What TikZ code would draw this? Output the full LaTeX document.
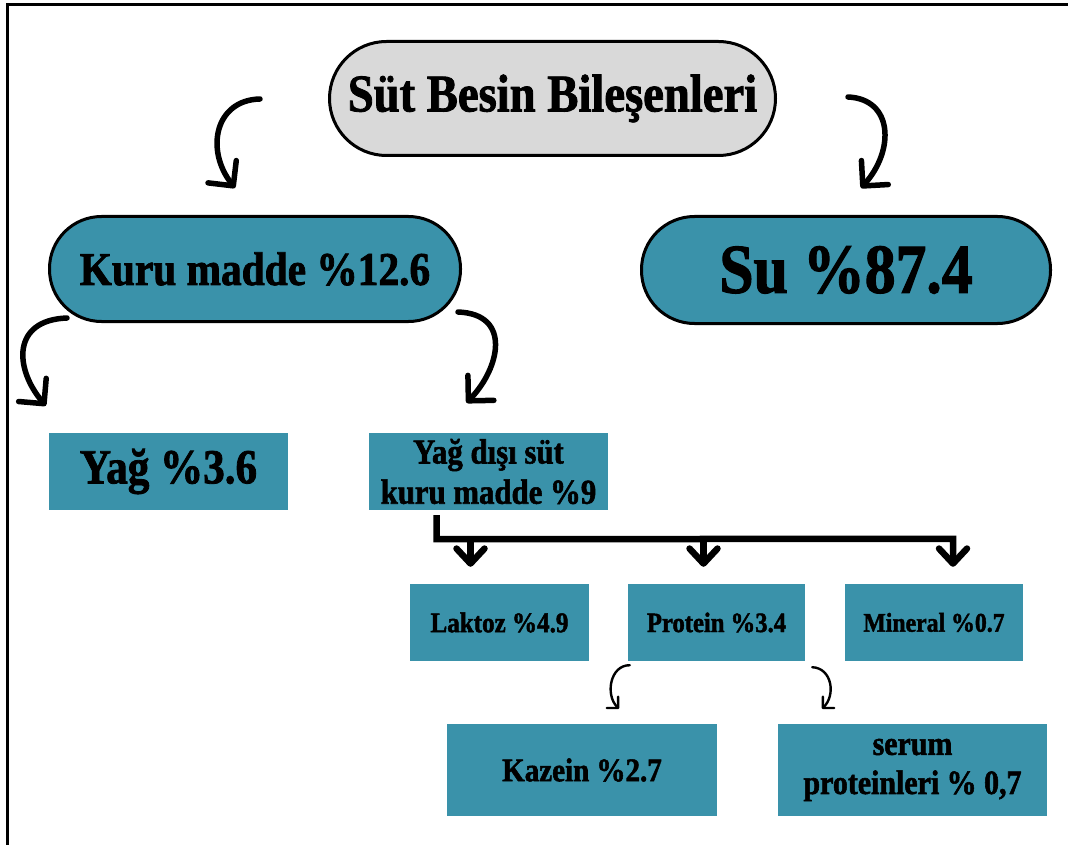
\documentclass[tikz,border=0pt]{standalone}
\usepackage{fontspec}
\setmainfont{Liberation Serif}[FakeStretch=0.88, BoldFeatures={FakeBold=1.6}]
\usepackage{xcolor}
\usepackage{tikz}
\usetikzlibrary{arrows.meta, calc}

\definecolor{milkteal}{HTML}{3A92AA}
\definecolor{pillgray}{HTML}{D9D9D9}
\newcommand{\sizept}[1]{\bfseries\fontsize{#1}{1.15\dimexpr#1pt\relax}\selectfont}

\begin{document}
\begin{tikzpicture}[x=1pt, y=-1pt,
  pill/.style={draw, line width=3pt, fill=milkteal, inner sep=0pt, align=center},
  tbox/.style={fill=milkteal, inner sep=0pt, align=center},
  curvy/.style={line width=5.5pt, line cap=round, -{Straight Barb[length=18pt, width=36pt, line width=5.5pt, round]}},
  thin curvy/.style={line width=2.4pt, line cap=round, -{Straight Barb[length=8pt, width=16pt, line width=2.4pt, round]}},
  barrow/.style={line width=6.5pt, -{Straight Barb[length=15pt, width=28pt, line width=6.5pt, round]}}]
  \useasboundingbox (0,0) rectangle (1068,845);
  \draw[line width=3pt] (7,845) -- (7,5) -- (1068,5);

  % top level
  \node[pill, fill=pillgray, minimum width=446pt, minimum height=114pt, rounded corners=57pt,
        font=\sizept{53}] (title) at (552.5,98.5) {Süt Besin Bileşenleri};
  \node[pill, minimum width=411pt, minimum height=105pt, rounded corners=52pt,
        font=\sizept{47}] (kuru) at (255,269) {Kuru madde \%12.6};
  \node[pill, minimum width=409pt, minimum height=107pt, rounded corners=53pt,
        font=\sizept{70}] (su) at (846,270) {Su \%87.4};

  % second level
  \node[tbox, minimum width=239pt, minimum height=77pt, font=\sizept{49}] (yag) at (168.5,471.5) {Yağ \%3.6};
  \node[tbox, minimum width=239pt, minimum height=77pt, font=\sizept{35}] (ydsk) at (488.5,471.5)
       {Yağ dışı süt\\kuru madde \%9};

  % third level
  \node[tbox, minimum width=179pt, minimum height=77pt, font=\sizept{28.5}] (laktoz) at (499.5,622.5) {Laktoz \%4.9};
  \node[tbox, minimum width=177pt, minimum height=77pt, font=\sizept{28}] (protein) at (716.5,622.5) {Protein \%3.4};
  \node[tbox, minimum width=178pt, minimum height=77pt, font=\sizept{27}] (mineral) at (934,622.5) {Mineral \%0.7};

  % protein parts
  \node[tbox, minimum width=270pt, minimum height=92pt, font=\sizept{33}] (kazein) at (582,770) {Kazein \%2.7};
  \node[tbox, minimum width=269pt, minimum height=92pt, font=\sizept{34}] (serum) at (912.5,770)
       {serum\\proteinleri \% 0,7};

  % curved arrows
  \draw[curvy] ($(title.west)+(-68,0.5)$) .. controls (215,100) and (205,150) .. ($(kuru.north)+(-20,-27)$);
  \draw[curvy] ($(title.east)+(71,-1.5)$) .. controls (893,99) and (895,150) .. ($(su.north)+(15,-27)$);
  \draw[curvy] ($(kuru.south)+(-188,-5)$) .. controls (12,320) and (14,368) .. ($(yag.north west)+(-3,-27)$);
  \draw[curvy] ($(kuru.south)+(203,-11)$) .. controls (512,314) and (500,368) .. ($(ydsk.north)+(-22,-30)$);
  \draw[thin curvy] ($(protein.south west)+(2,4)$) .. controls (610,665) and (605,695) .. ($(kazein.north)+(37,-15)$);
  \draw[thin curvy] ($(protein.south east)+(7,6)$) .. controls (832,668) and (836,695) .. ($(serum.north)+(-90.5,-15)$);

  % fork under Yağ dışı süt kuru madde
  \coordinate (fork) at ($(ydsk.south)+(-52,29)$);
  \draw[barrow] ($(ydsk.south)+(-52,5)$) -- (fork) -- ($(mineral.north)+(19,-45)$) -- ($(mineral.north)+(19,-17)$);
  \draw[barrow] ($(laktoz.north)+(-29,-45)$) -- ($(laktoz.north)+(-29,-17)$);
  \draw[barrow] ($(protein.north)+(-13,-45)$) -- ($(protein.north)+(-13,-17)$);
\end{tikzpicture}
\end{document}
